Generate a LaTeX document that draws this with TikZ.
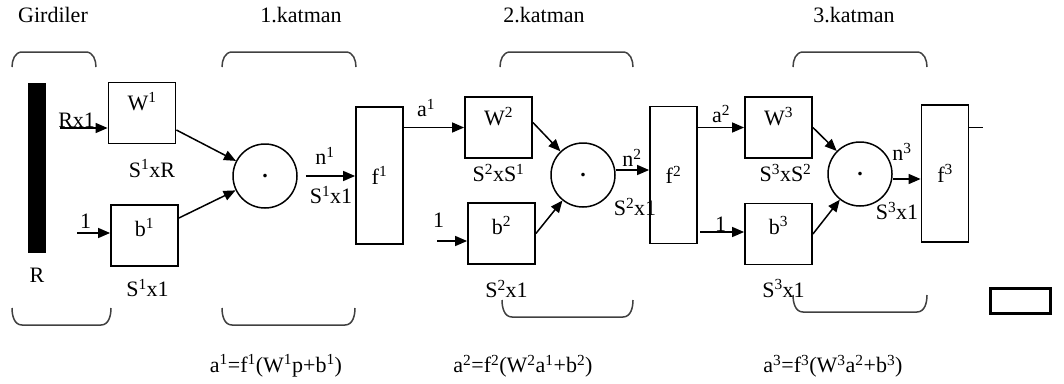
\documentclass[tikz,border=0pt]{standalone}
\usepackage{fontspec}
\setmainfont{Liberation Serif}
\usepackage{tikz}
\usetikzlibrary{arrows.meta, positioning}

\newcommand{\sups}[1]{\textsuperscript{#1}}

\begin{document}
\begin{tikzpicture}[
    x=1pt, y=-1pt,
    font=\fontsize{22}{26}\selectfont,
    wbox/.style={rectangle, draw, line width=1.8pt, minimum width=67pt, minimum height=61pt, inner sep=0pt, text height=15pt, text depth=20pt},
    bbox/.style={rectangle, draw, line width=1.8pt, minimum width=67pt, minimum height=61pt, inner sep=0pt, text height=15pt, text depth=14pt},
    fbox/.style={rectangle, draw, line width=1.8pt, minimum width=47pt, minimum height=137pt, inner sep=0pt},
    summer/.style={circle, draw, line width=1.5pt, minimum size=64pt, inner sep=0pt, font=\fontsize{22}{26}\selectfont\bfseries},
    dimlbl/.style={inner sep=0pt},
    conn/.style={->, >={Triangle[length=12pt, width=10pt]}, line width=1.5pt},
    wire/.style={line width=1.5pt},
    brace/.style={line width=1.5pt, black!75}
  ]
  \useasboundingbox (0,0) rectangle (1064,383);

  % titles
  \node (girdiler) at (53,15) {Girdiler};
  \node (k1) at (301,15) {1.katman};
  \node (k2) at (544,15) {2.katman};
  \node (k3) at (854,15) {3.katman};

  % braces
  \foreach \xa/\xb in {12/96, 222/356, 500/633, 793/927}
    \draw[brace] (\xa,67) to[out=90,in=180] (\xa+10,52) -- (\xb-10,52) to[out=0,in=90] (\xb,67);
  \foreach \xa/\xb/\ya in {12/111/308, 222/355/308, 502/633/300, 793/927/295}
    \draw[brace] (\xa,\ya) to[out=-90,in=180] (\xa+10,\ya+17) -- (\xb-10,\ya+17) to[out=0,in=-90] (\xb,\ya);

  % inputs
  \node[fill=black, minimum width=18pt, minimum height=170pt, inner sep=0pt] (bar) at (37,168) {};
  \node[dimlbl, below=15pt of bar] (rlbl) {R};
  \coordinate (p) at (60,128);
  \coordinate (one1) at (77,233);
  \coordinate (one2) at (437,241);
  \coordinate (one3) at (700,232);
  \coordinate (out) at (983,127.5);

  % layer 1
  \node[wbox] (w1) at (142,113) {W\sups{1}};
  \node[bbox] (b1) at (144.5,235.5) {b\sups{1}};
  \node[summer] (c1) at (265,176) {.};
  \node[fbox] (f1) at (379.5,175.5) {f\sups{1}};
  \node[dimlbl, below=15pt of w1, xshift=10pt] (w1dim) {S\sups{1}xR};
  \node[dimlbl, below=12pt of b1, xshift=3pt] (b1dim) {S\sups{1}x1};
  \node[dimlbl] (n1) at (325,156) {n\sups{1}};
  \node[dimlbl] (n1dim) at (331,195) {S\sups{1}x1};

  % layer 2
  \node[wbox] (w2) at (498.5,127.5) {W\sups{2}};
  \node[bbox] (b2) at (501.5,233.5) {b\sups{2}};
  \node[summer] (c2) at (583,175) {.};
  \node[fbox] (f2) at (673.5,175) {f\sups{2}};
  \node[dimlbl, below=5pt of w2] (w2dim) {S\sups{2}xS\sups{1}};
  \node[dimlbl, below=15pt of b2, xshift=5pt] (b2dim) {S\sups{2}x1};
  \node[dimlbl] (n2) at (632,158) {n\sups{2}};
  \node[dimlbl] (n2dim) at (635,207) {S\sups{2}x1};

  % layer 3
  \node[wbox] (w3) at (778.5,127.5) {W\sups{3}};
  \node[bbox] (b3) at (778.5,234) {b\sups{3}};
  \node[summer] (c3) at (860,174) {.};
  \node[fbox] (f3) at (945,173.5) {f\sups{3}};
  \node[dimlbl, below=5pt of w3, xshift=7pt] (w3dim) {S\sups{3}xS\sups{2}};
  \node[dimlbl, below=14pt of b3, xshift=5pt] (b3dim) {S\sups{3}x1};
  \node[dimlbl] (n3) at (902,152) {n\sups{3}};
  \node[dimlbl] (n3dim) at (897,211) {S\sups{3}x1};

  % connectors layer 1
  \draw[conn] (p) -- (p -| w1.west) node[pos=0.35, above, inner sep=0pt] (rx1) {Rx1};
  \draw[conn] (one1) -- (one1 -| b1.west) node[pos=0.26, above=4pt, inner sep=0pt] (one1lbl) {1};
  \draw[conn] ([yshift=-17pt]w1.east) -- (c1);
  \draw[conn] ([yshift=17.5pt]b1.east) -- (c1);
  \draw[conn, shorten <=8pt] (c1.east) -- (c1.east -| f1.west);
  \draw[conn] (f1.east |- w2.west) -- (w2.west) node[pos=0.37, above=10pt, inner sep=0pt] (a1) {a\sups{1}};

  % connectors layer 2
  \draw[conn] (one2) -- (one2 -| b2.west) node[pos=0.05, above=13pt, inner sep=0pt] (one2lbl) {1};
  \draw[conn] ([yshift=5pt]w2.east) -- (c2);
  \draw[conn] (b2.east) -- (c2);
  \draw[conn] ([yshift=5pt]c2.east) -- ([yshift=5pt]c2.east -| f2.west);
  \draw[conn] (f2.east |- w3.west) -- (w3.west) node[midway, above=4pt, inner sep=0pt] (a2) {a\sups{2}};

  % connectors layer 3
  \draw[conn] (one3) -- (one3 -| b3.west) node[pos=0.47, above=0pt, inner sep=0pt] (one3lbl) {1};
  \draw[conn] (w3.east) -- (c3);
  \draw[conn] (b3.east) -- (c3);
  \draw[conn] ([yshift=-5pt]c3.east) -- ([yshift=-5pt]c3.east -| f3.west);
  \draw[wire] (f3.east |- w3.west) -- (out);

  % formulas
  \node (eq1) at (276,366) {a\sups{1}=f\sups{1}(W\sups{1}p+b\sups{1})};
  \node (eq2) at (523,366) {a\sups{2}=f\sups{2}(W\sups{2}a\sups{1}+b\sups{2})};
  \node (eq3) at (833,366) {a\sups{3}=f\sups{3}(W\sups{3}a\sups{2}+b\sups{3})};

  \node[draw, line width=3pt, minimum width=60pt, minimum height=25pt, inner sep=0pt] (kutu) at (1020.5,301) {};
\end{tikzpicture}
\end{document}
